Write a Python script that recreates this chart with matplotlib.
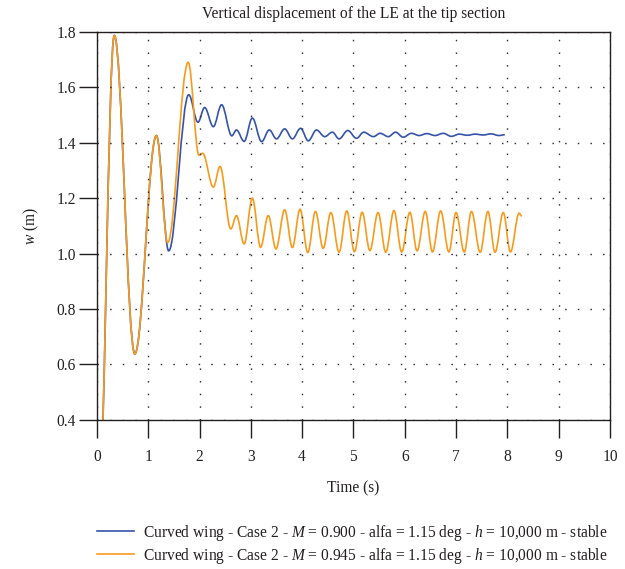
import matplotlib
matplotlib.use('Agg')
import matplotlib.pyplot as plt
from matplotlib.path import Path
from matplotlib.patches import PathPatch
from matplotlib.lines import Line2D

plt.rcParams['font.family'] = ['Liberation Serif', 'DejaVu Serif']
plt.rcParams['mathtext.fontset'] = 'custom'
plt.rcParams['mathtext.rm'] = 'Liberation Serif'
plt.rcParams['mathtext.it'] = 'Liberation Serif:italic'

# peaks / troughs (time in s, w in m)
blue_t = [0.02, 0.34, 0.74, 1.16, 1.40, 1.79, 1.97, 2.10, 2.27, 2.43,
          2.63, 2.72, 2.87, 3.03, 3.21, 3.36, 3.50, 3.66, 3.81, 3.97,
          4.12, 4.28, 4.44, 4.59, 4.72, 4.89, 5.06, 5.20, 5.39, 5.52,
          5.68, 5.82, 5.97, 6.13, 6.28, 6.43, 6.59, 6.75, 6.91, 7.06,
          7.22, 7.37, 7.53, 7.68, 7.84, 7.95]
blue_w = [0.0, 1.787, 0.638, 1.426, 1.010, 1.573, 1.474, 1.527, 1.458, 1.537,
          1.425, 1.446, 1.405, 1.489, 1.404, 1.446, 1.414, 1.450, 1.414, 1.452,
          1.407, 1.446, 1.422, 1.438, 1.414, 1.444, 1.416, 1.438, 1.422, 1.434,
          1.422, 1.438, 1.420, 1.434, 1.426, 1.433, 1.426, 1.434, 1.423, 1.431,
          1.427, 1.431, 1.428, 1.432, 1.426, 1.429]

orange_t = [0.02, 0.34, 0.74, 1.16, 1.38, 1.78, 1.99, 2.06, 2.27, 2.40,
            2.61, 2.72, 2.87, 3.03, 3.19, 3.34, 3.49, 3.66, 3.81, 3.96,
            4.11, 4.26, 4.41, 4.56, 4.72, 4.87, 5.02, 5.17, 5.32, 5.48,
            5.63, 5.79, 5.94, 6.10, 6.24, 6.40, 6.54, 6.70, 6.86, 7.00,
            7.16, 7.30, 7.47, 7.62, 7.76, 7.92, 8.06, 8.23, 8.28]
orange_w = [0.0, 1.787, 0.638, 1.426, 1.040, 1.690, 1.355, 1.362, 1.240, 1.314,
            1.089, 1.137, 1.035, 1.200, 1.023, 1.137, 1.017, 1.158, 1.022, 1.160,
            1.004, 1.152, 1.019, 1.148, 1.005, 1.154, 1.007, 1.149, 1.011, 1.148,
            1.005, 1.155, 1.006, 1.149, 1.010, 1.152, 1.006, 1.154, 1.006, 1.148,
            1.006, 1.152, 1.005, 1.152, 1.005, 1.148, 1.006, 1.146, 1.135]

labels = [
    'Curved wing - Case 2 - $M$ = 0.900 - alfa = 1.15 deg - $h$ = 10,000 m - stable',
    'Curved wing - Case 2 - $M$ = 0.945 - alfa = 1.15 deg - $h$ = 10,000 m - stable',
]
colors = ['#3553a8', '#f89a1c']
text_c = '#231f20'
fs = 11.2


def smooth_path(ts, ws, k=0.364):
    # cubic bezier between extrema, flat tangent at each one
    verts = [(ts[0], ws[0])]
    codes = [Path.MOVETO]
    for i in range(len(ts) - 1):
        dt = ts[i + 1] - ts[i]
        verts += [(ts[i] + k * dt, ws[i]), (ts[i + 1] - k * dt, ws[i + 1]),
                  (ts[i + 1], ws[i + 1])]
        codes += [Path.CURVE4] * 3
    return Path(verts, codes)


fig = plt.figure(figsize=(6.25, 5.69), dpi=100)
ax = fig.add_axes([0.155, 0.262, 0.821, 0.682])

for ts, ws, c in [(blue_t, blue_w, colors[0]), (orange_t, orange_w, colors[1])]:
    p = PathPatch(smooth_path(ts, ws), fill=False, edgecolor=c, lw=1.2,
                  transform=ax.transData)
    ax.add_patch(p)

ax.set_xlim(0, 10)
ax.set_ylim(0.4, 1.8)
ax.set_xticks(range(0, 11))
ax.set_yticks([0.4, 0.6, 0.8, 1.0, 1.2, 1.4, 1.6, 1.8])
ax.set_yticklabels(['0.4', '0.6', '0.8', '1.0', '1.2', '1.4', '1.6', '1.8'])

ax.grid(True, color='#333333', lw=1.0, linestyle=(0, (1.1, 8)))
for s in ax.spines.values():
    s.set_linewidth(1.0)
    s.set_color(text_c)
ax.tick_params(axis='both', direction='out', length=13, width=1.0, color=text_c,
               labelcolor=text_c, labelsize=fs)
ax.tick_params(axis='x', pad=8)
ax.tick_params(axis='y', pad=2)

ax.set_title('Vertical displacement of the LE at the tip section', fontsize=fs,
             color=text_c, pad=10)
ax.set_xlabel('Time (s)', fontsize=fs, color=text_c)
ax.set_ylabel('$w$ (m)', fontsize=fs, color=text_c)
ax.xaxis.set_label_coords(0.5, -0.155)
ax.yaxis.set_label_coords(-0.108, 0.5)

handles = [Line2D([], [], color=c, lw=1.2) for c in colors]
fig.legend(handles, labels, loc='upper right', bbox_to_anchor=(0.982, 0.092),
           frameon=False, fontsize=fs, handlelength=2.4, handletextpad=0.55,
           labelspacing=0.18, borderaxespad=0, labelcolor=text_c)

fig.savefig('out.png', dpi=100)
